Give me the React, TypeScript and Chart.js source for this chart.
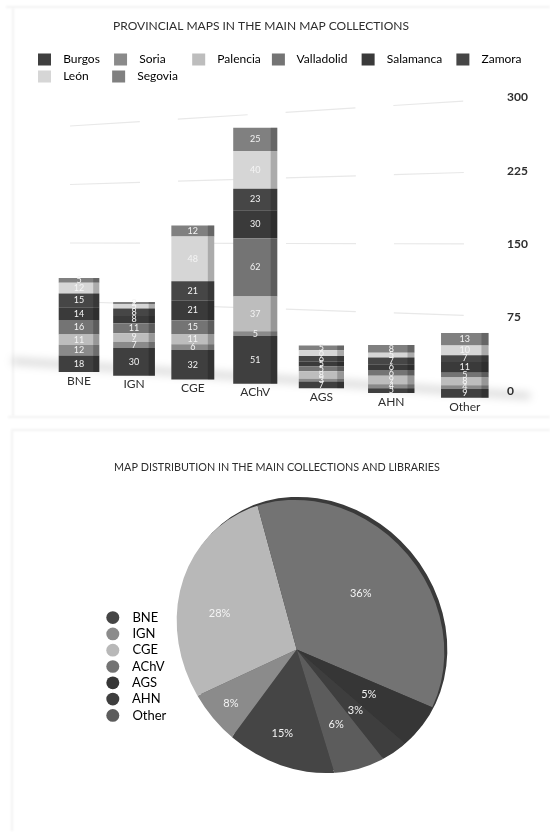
import React, { useEffect, useRef } from "react";
import { Chart, registerables } from "chart.js";

Chart.register(...registerables);

const FONT = "Lato";
const INK = "#2e2e2e";

const barTitle = "PROVINCIAL MAPS IN THE MAIN MAP COLLECTIONS";
const pieTitle = "MAP DISTRIBUTION IN THE MAIN COLLECTIONS AND LIBRARIES";

const collections = ["BNE", "IGN", "CGE", "AChV", "AGS", "AHN", "Other"];
const yTicks = [0, 75, 150, 225, 300];

const burgos = [18, 30, 32, 51, 7, 5, 9];
const soria = [12, 7, 6, 5, 3, 4, 4];
const palencia = [11, 9, 11, 37, 8, 9, 8];
const valladolid = [16, 11, 15, 62, 5, 6, 5];
const salamanca = [14, 8, 21, 30, 5, 6, 11];
const zamora = [15, 8, 21, 23, 6, 7, 7];
const leon = [12, 5, 48, 40, 6, 5, 10];
const segovia = [5, 2, 12, 25, 5, 8, 13];

const provinces = ["Burgos", "Soria", "Palencia", "Valladolid", "Salamanca", "Zamora", "León", "Segovia"];
const provinceValues = [burgos, soria, palencia, valladolid, salamanca, zamora, leon, segovia];
const provinceColors = ["#3f3f3f", "#8a8a8a", "#bdbdbd", "#747474", "#3a3a3a", "#464646", "#d6d6d6", "#808080"];
const legendTrailingSpaces = [3, 7, 2, 3, 3, 0, 6, 3];

const shares = [15, 8, 28, 36, 5, 3, 6];
const shareColors = ["#454545", "#8b8b8b", "#b8b8b8", "#737373", "#363636", "#3e3e3e", "#5c5c5c"];

// Oblique view of the bar chart's floor, applied on top of the library's scales.
const projectX = (t: number) => {
  const i = 7 * t - 0.5;
  return 79 + 53.2 * i + 1.85 * i * i;
};
const widthFactor = (t: number) => 0.89 + 0.18 * t;
const floorY = (x: number) => 372 + 0.067 * (x - 79);
const heightPerUnit = (x: number) => 0.9 + 0.00015 * x;
const gridY = (x: number, v: number) => {
  const k = (x - 70) / 440;
  return 360 - v * 0.78 + (390 - v * 0.973 - (360 - v * 0.78)) * k;
};

const perspectivePlugin = {
  id: "perspective",
  afterLayout(chart: any) {
    const t = chart.titleBlock;
    t.left = 0;
    t.right = 522;
    chart.legend.top -= 5;
    chart.legend.bottom -= 5;
  },
  afterDatasetsUpdate(chart: any) {
    const xs = chart.scales.x;
    const ys = chart.scales.y;
    chart.data.datasets.forEach((_: any, d: number) => {
      chart.getDatasetMeta(d).data.forEach((el: any) => {
        const t = (el.x - xs.left) / (xs.right - xs.left);
        const x = projectX(t);
        const top = ys.getValueForPixel(el.y);
        const bottom = ys.getValueForPixel(el.base);
        el.x = x;
        el.width = el.width * widthFactor(t);
        el.y = floorY(x) - top * heightPerUnit(x);
        el.base = floorY(x) - bottom * heightPerUnit(x);
        el.height = el.base - el.y;
      });
    });
  },
  beforeDraw(chart: any) {
    const xs = chart.scales.x;
    xs.getLabelItems().forEach((item: any, i: number) => {
      const t = (xs.getPixelForTick(i) - xs.left) / (xs.right - xs.left);
      const x = projectX(t);
      item.options.translation = [x, floorY(x) + 16];
    });
    const ctx = chart.ctx;
    ctx.save();
    ctx.filter = "blur(4px)";
    ctx.strokeStyle = "rgba(0,0,0,0.17)";
    ctx.lineWidth = 6;
    ctx.beginPath();
    ctx.moveTo(12, 361);
    ctx.lineTo(530, 396);
    ctx.stroke();
    ctx.restore();
  },
  beforeDatasetsDraw(chart: any) {
    const ctx = chart.ctx;
    ctx.save();
    ctx.strokeStyle = "#e8e8e8";
    ctx.lineWidth = 1.2;
    ctx.setLineDash([70, 38]);
    yTicks.slice(1).forEach((v) => {
      ctx.beginPath();
      ctx.moveTo(70, gridY(70, v));
      ctx.lineTo(500, gridY(500, v));
      ctx.stroke();
    });
    ctx.restore();
  },
  afterDatasetsDraw(chart: any) {
    const ctx = chart.ctx;
    ctx.save();
    chart.data.datasets.forEach((ds: any, d: number) => {
      chart.getDatasetMeta(d).data.forEach((el: any, i: number) => {
        const side = el.width * 0.15;
        ctx.fillStyle = "rgba(0,0,0,0.2)";
        ctx.fillRect(el.x + el.width / 2 - side, el.y, side, el.height);
        ctx.fillStyle = "#f4f4f4";
        ctx.font = `9px ${FONT}`;
        ctx.textAlign = "center";
        ctx.textBaseline = "middle";
        ctx.fillText(String(ds.data[i]), el.x, el.y + el.height / 2);
      });
    });
    ctx.restore();
  },
};

const faceEllipse = [310.5, 206.5, 143, 127, (50 * Math.PI) / 180];
const rimEllipse = [313.5, 203.5, 143, 127, (50 * Math.PI) / 180];

const piePlugin = {
  id: "tiltedPie",
  afterLayout(chart: any) {
    const t = chart.titleBlock;
    t.left = 0;
    t.right = 554;
    chart.legend.top += 42;
    chart.legend.bottom += 42;
  },
  beforeDatasetsDraw(chart: any) {
    const ctx = chart.ctx;
    ctx.save();
    ctx.fillStyle = "#3a3a3a";
    ctx.beginPath();
    ctx.ellipse(rimEllipse[0], rimEllipse[1], rimEllipse[2], rimEllipse[3], rimEllipse[4], 0, Math.PI * 2);
    ctx.fill();
    ctx.beginPath();
    ctx.ellipse(faceEllipse[0], faceEllipse[1], faceEllipse[2], faceEllipse[3], faceEllipse[4], 0, Math.PI * 2);
    ctx.clip();
  },
  afterDatasetsDraw(chart: any) {
    const ctx = chart.ctx;
    ctx.restore();
    ctx.save();
    ctx.fillStyle = "#f4f4f4";
    ctx.font = `11px ${FONT}`;
    ctx.textAlign = "center";
    ctx.textBaseline = "middle";
    chart.getDatasetMeta(0).data.forEach((arc: any, i: number) => {
      const mid = (arc.startAngle + arc.endAngle) / 2;
      ctx.fillText(`${shares[i]}%`, arc.x + Math.cos(mid) * 85, arc.y + Math.sin(mid) * 85);
    });
    ctx.restore();
  },
};

export default function App() {
  const barRef = useRef<HTMLCanvasElement>(null);
  const pieRef = useRef<HTMLCanvasElement>(null);

  useEffect(() => {
    const bar = new Chart(barRef.current!, {
      type: "bar",
      data: {
        labels: collections,
        datasets: provinces.map((name, i) => ({
          label: name,
          data: provinceValues[i],
          backgroundColor: provinceColors[i],
          borderWidth: 0,
          clip: false,
          barPercentage: 0.68,
          categoryPercentage: 1,
        })),
      },
      options: {
        responsive: false,
        animation: false,
        layout: { padding: { left: 33, right: 0, bottom: 9 } },
        scales: {
          x: {
            stacked: true,
            grid: { display: false },
            border: { display: false },
            afterFit: (s: any) => {
              s.height = 18;
            },
            ticks: { color: INK, mirror: true, font: { family: FONT, size: 12 }, maxRotation: 0 },
          },
          y: {
            stacked: true,
            position: "right",
            min: 0,
            max: 300,
            grid: { display: false },
            border: { display: false },
            afterFit: (s: any) => {
              s.width = 54;
            },
            ticks: { stepSize: 75, color: INK, font: { family: FONT, size: 12, weight: "bold" } },
          },
        },
        plugins: {
          tooltip: { enabled: false },
          title: {
            display: true,
            text: barTitle,
            color: INK,
            font: { family: FONT, size: 12, weight: "normal" },
            padding: { top: 19, bottom: 20 },
          },
          legend: {
            position: "top",
            align: "start",
            labels: {
              color: INK,
              boxWidth: 13,
              boxHeight: 12,
              padding: 5,
              font: { family: FONT, size: 12 },
              generateLabels: () =>
                provinces.map((name, i) => ({
                  text: "\u00a0\u00a0" + name + "\u00a0".repeat(legendTrailingSpaces[i]),
                  fillStyle: provinceColors[i],
                  strokeStyle: provinceColors[i],
                  lineWidth: 0,
                  datasetIndex: i,
                })),
            },
          },
        },
      },
      plugins: [perspectivePlugin],
    } as any);

    const pie = new Chart(pieRef.current!, {
      type: "pie",
      data: {
        labels: collections,
        datasets: [
          {
            data: shares,
            backgroundColor: shareColors,
            borderWidth: 0,
            clip: false,
            radius: 190,
          },
        ],
      },
      options: {
        responsive: false,
        animation: false,
        rotation: 163,
        layout: { padding: { left: 103, right: 133, bottom: 17, top: 0 } },
        plugins: {
          tooltip: { enabled: false },
          title: {
            display: true,
            text: pieTitle,
            color: INK,
            font: { family: FONT, size: 10.8, weight: "normal" },
            padding: { top: 31, bottom: 6 },
          },
          legend: {
            position: "left",
            labels: {
              color: INK,
              usePointStyle: true,
              pointStyle: "circle",
              boxHeight: 9,
              pointStyleWidth: 13,
              padding: 3.3,
              font: { family: FONT, size: 13 },
              generateLabels: () =>
                collections.map((name, i) => ({
                  text: "\u00a0\u00a0" + name,
                  fillStyle: shareColors[i],
                  strokeStyle: shareColors[i],
                  lineWidth: 0,
                  pointStyle: "circle",
                  index: i,
                })),
            },
          },
        },
      },
      plugins: [piePlugin],
    } as any);

    return () => {
      bar.destroy();
      pie.destroy();
    };
  }, []);

  const canvasStyle: React.CSSProperties = { position: "absolute", left: 0, filter: "blur(0.7px)" };
  const rule = (left: number, top: number, width: number, height: number) => (
    <div style={{ position: "absolute", left, top, width, height, background: "#f2f2f2", filter: "blur(0.8px)" }} />
  );
  return (
    <div style={{ position: "absolute", left: 0, top: 0, width: 550, height: 836, overflow: "hidden", background: "#fff" }}>
      {rule(6, 6, 544, 2)}
      {rule(12, 8, 2, 408)}
      {rule(8, 416, 542, 2)}
      {rule(11, 429, 539, 2)}
      {rule(11, 431, 2, 400)}
      <canvas ref={barRef} width={550} height={418} style={{ ...canvasStyle, top: 0 }} />
      <canvas ref={pieRef} width={550} height={406} style={{ ...canvasStyle, top: 430 }} />
    </div>
  );
}
